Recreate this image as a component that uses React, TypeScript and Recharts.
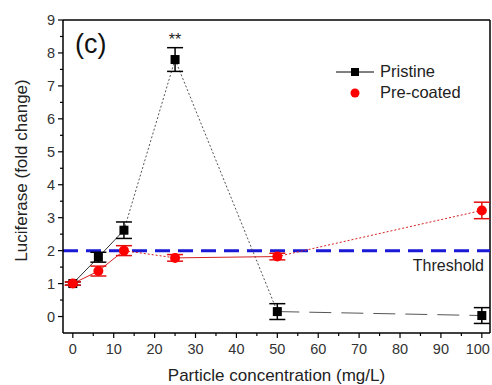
import React from "react";
import {
  ComposedChart,
  Line,
  Scatter,
  ErrorBar,
  XAxis,
  YAxis,
  ReferenceLine,
  ReferenceDot,
} from "recharts";

// particle concentration (mg/L)
const concentrations = [0, 6.25, 12.5, 25, 50, 100];
const pristine = [1.0, 1.8, 2.62, 7.8, 0.15, 0.03];
const pristineErr = [0.05, 0.15, 0.25, 0.36, 0.24, 0.24];
const precoated = [1.0, 1.38, 2.0, 1.78, 1.82, 3.22];
const precoatedErr = [0.05, 0.15, 0.15, 0.1, 0.1, 0.25];
const threshold = 2;

const xTicks = [0, 5, 10, 15, 20, 25, 30, 35, 40, 45, 50, 55, 60, 65, 70, 75, 80, 85, 90, 95, 100];
const yTicks = [0, 0.5, 1, 1.5, 2, 2.5, 3, 3.5, 4, 4.5, 5, 5.5, 6, 6.5, 7, 7.5, 8, 8.5, 9];

// line style per segment (point i -> i+1)
const pristineDash = ["0", "0", "2 2", "2 2", "22 10"];
const precoatedDash = ["0", "0", "2 2", "0", "2 2"];

const FONT = "'Liberation Sans', Arial, sans-serif";
const TS = 5;
const TM = 3;

const toPoints = (ys: number[], errs: number[]) =>
  concentrations.map((x, i) => ({ x, y: ys[i], err: errs[i] }));

const toSegments = (ys: number[]) =>
  concentrations.slice(0, -1).map((x, i) => [
    { x, y: ys[i] },
    { x: concentrations[i + 1], y: ys[i + 1] },
  ]);

const XTick = (props: any) => {
  const { x, y, payload } = props;
  const major = payload.value % 10 === 0;
  const ay = y - TS - TM;
  // last label sits against the frame edge, nudge it in
  const shift = payload.value === xTicks[xTicks.length - 1] ? -4 : 0;
  return (
    <g>
      <line x1={x} x2={x} y1={ay} y2={ay + (major ? 5 : 3)} stroke="#000" strokeWidth={1.2} />
      {major && (
        <text x={x + shift} y={ay + 9} dy="0.8em" textAnchor="middle" fontSize={14.5} fill="#333" fontFamily={FONT}>
          {payload.value}
        </text>
      )}
    </g>
  );
};

const YTick = (props: any) => {
  const { x, y, payload } = props;
  const major = Number.isInteger(payload.value);
  const ax = x + TS + TM;
  return (
    <g>
      <line x1={ax} x2={ax - (major ? 5 : 3)} y1={y} y2={y} stroke="#000" strokeWidth={1.2} />
      {major && (
        <text x={ax - 8} y={y} dy="0.35em" textAnchor="end" fontSize={14.5} fill="#333" fontFamily={FONT}>
          {payload.value}
        </text>
      )}
    </g>
  );
};

const Square = (props: any) => {
  const { cx, cy } = props;
  return <rect x={cx - 4.5} y={cy - 4.5} width={9} height={9} fill="#000" />;
};

const Dot = (props: any) => {
  const { cx, cy } = props;
  return <circle cx={cx} cy={cy} r={5} fill="#ff0000" />;
};

const YLabel = (props: any) => {
  const { viewBox } = props;
  const cx = viewBox.x + 21;
  const cy = viewBox.y + viewBox.height / 2 - 6;
  return (
    <text x={cx} y={cy} transform={`rotate(-90, ${cx}, ${cy})`} textAnchor="middle" dominantBaseline="central" fontSize={17} fill="#222" fontFamily={FONT}>
      Luciferase (fold change)
    </text>
  );
};

const ThresholdLabel = (props: any) => {
  const { viewBox } = props;
  return (
    <text x={viewBox.x + viewBox.width - 6} y={viewBox.y + 20} textAnchor="end" fontSize={16} fill="#222" fontFamily={FONT}>
      Threshold
    </text>
  );
};

export default function App() {
  const pristinePts = toPoints(pristine, pristineErr);
  const precoatedPts = toPoints(precoated, precoatedErr);
  const peak = pristine.indexOf(Math.max(...pristine));

  return (
    <div style={{ position: "absolute", left: 0, top: 0, width: 492, height: 385, background: "#fff", fontFamily: FONT }}>
      <ComposedChart width={492} height={385} margin={{ top: 20, right: 2, left: 0, bottom: 0 }}>
        <XAxis
          dataKey="x"
          type="number"
          domain={[-2.4, 102]}
          ticks={xTicks}
          interval={0}
          tickSize={TS}
          tickMargin={TM}
          tickLine={false}
          tick={<XTick />}
          axisLine={{ stroke: "#000", strokeWidth: 1.5 }}
          height={52}
          allowDataOverflow
          label={{ value: "Particle concentration (mg/L)", position: "insideBottom", offset: 4, fontSize: 17, fill: "#222", fontFamily: FONT }}
        />
        <YAxis
          dataKey="y"
          type="number"
          domain={[-0.5, 9]}
          ticks={yTicks}
          interval={0}
          tickSize={TS}
          tickMargin={TM}
          tickLine={false}
          tick={<YTick />}
          axisLine={{ stroke: "#000", strokeWidth: 1.5 }}
          width={63}
          allowDataOverflow
          label={<YLabel />}
        />
        <ReferenceLine y={9} stroke="#000" strokeWidth={1.5} />
        <ReferenceLine x={102} stroke="#000" strokeWidth={1.5} />
        <ReferenceLine
          y={threshold}
          stroke="#1a1ad6"
          strokeWidth={3}
          strokeDasharray="15 8"
          label={<ThresholdLabel />}
        />
        {toSegments(pristine).map((seg, i) => (
          <Line
            key={`p${i}`}
            data={seg}
            dataKey="y"
            stroke={i < 2 ? "#333" : "#555"}
            strokeWidth={1}
            strokeDasharray={pristineDash[i]}
            dot={false}
            activeDot={false}
            isAnimationActive={false}
          />
        ))}
        {toSegments(precoated).map((seg, i) => (
          <Line
            key={`c${i}`}
            data={seg}
            dataKey="y"
            stroke="#d42020"
            strokeWidth={1}
            strokeDasharray={precoatedDash[i]}
            dot={false}
            activeDot={false}
            isAnimationActive={false}
          />
        ))}
        <Scatter data={pristinePts} dataKey="y" shape={<Square />} isAnimationActive={false}>
          <ErrorBar dataKey="err" direction="y" width={8} stroke="#000" strokeWidth={1.5} />
        </Scatter>
        <Scatter data={precoatedPts} dataKey="y" shape={<Dot />} isAnimationActive={false}>
          <ErrorBar dataKey="err" direction="y" width={8} stroke="#e01010" strokeWidth={1.5} />
        </Scatter>
        <ReferenceDot
          x={concentrations[peak]}
          y={pristine[peak] + pristineErr[peak]}
          r={0}
          fill="none"
          stroke="none"
          label={{ value: "**", position: "top", offset: 3, fontSize: 16, fill: "#222", fontFamily: FONT }}
        />
      </ComposedChart>
      <div style={{ position: "absolute", left: 75, top: 29, fontSize: 27, color: "#111" }}>(c)</div>
      <div style={{ position: "absolute", left: 336, top: 61, fontSize: 16.5, color: "#222", lineHeight: "21px" }}>
        <div style={{ display: "flex", alignItems: "center" }}>
          <svg width={40} height={12} style={{ marginRight: 4 }}>
            <line x1={0} x2={38} y1={6} y2={6} stroke="#000" strokeWidth={1} />
            <rect x={15} y={2} width={8} height={8} fill="#000" />
          </svg>
          Pristine
        </div>
        <div style={{ display: "flex", alignItems: "center" }}>
          <svg width={40} height={12} style={{ marginRight: 4 }}>
            <circle cx={19} cy={6} r={4.5} fill="#ff0000" />
          </svg>
          Pre-coated
        </div>
      </div>
    </div>
  );
}
